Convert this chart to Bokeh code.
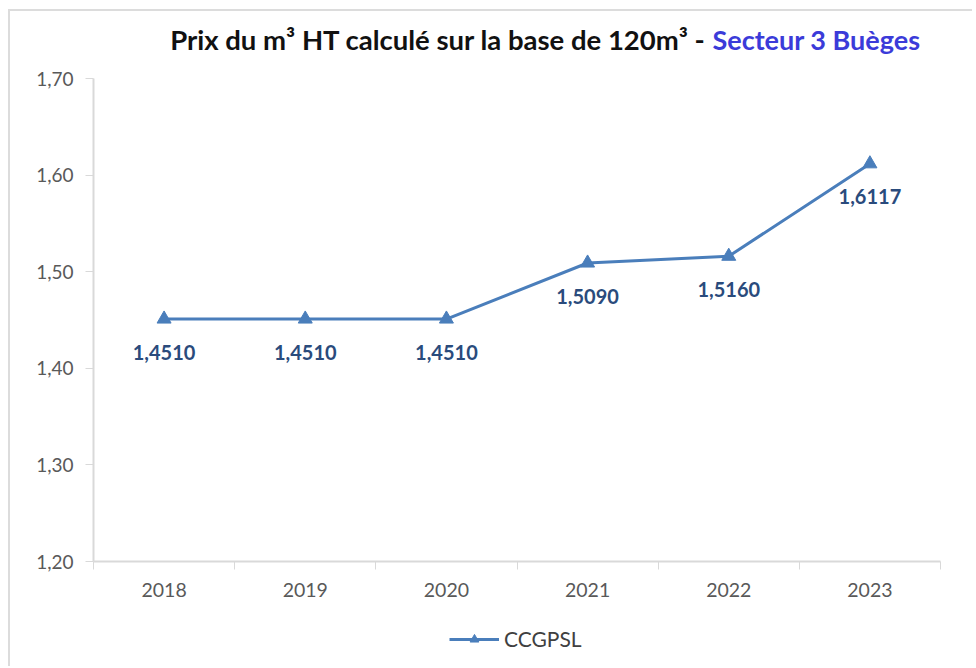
from bokeh.plotting import figure
from bokeh.layouts import column
from bokeh.models import (ColumnDataSource, FixedTicker, CustomJSTickFormatter,
                          Label, Legend, LegendItem, Range1d, LabelSet)
from bokeh.core.properties import value
from bokeh.embed import file_html
from bokeh.resources import INLINE

years = ["2018", "2019", "2020", "2021", "2022", "2023"]
prices = [1.4510, 1.4510, 1.4510, 1.5090, 1.5160, 1.6117]
price_labels = ["1,4510", "1,4510", "1,4510", "1,5090", "1,5160", "1,6117"]
y_ticks = [1.20, 1.30, 1.40, 1.50, 1.60, 1.70]
title_main = "Prix du m\u00b3 HT calcul\u00e9 sur la base de 120m\u00b3 -"
title_sector = "Secteur 3 Bu\u00e8ges"
series_name = "CCGPSL"

FONT = "Lato"
LINE_COLOR = "#4a7ebb"
LABEL_COLOR = "#2a4b7c"
W = 962


def blank(height):
    f = figure(width=W, height=height, output_backend="svg", toolbar_location=None,
               x_range=Range1d(0, W), y_range=Range1d(0, height),
               x_axis_location=None, y_axis_location=None,
               min_border=0, min_border_left=0, min_border_right=0,
               min_border_top=0, min_border_bottom=0)
    f.outline_line_color = None
    f.grid.visible = False
    f.background_fill_color = "white"
    f.border_fill_color = "white"
    return f


# ---- title strip ----
tf = blank(50)
t1 = Label(x=696, y=22, text=title_main, text_align="right", text_baseline="middle",
           text_font=FONT, text_font_size="27.5px", text_font_style="bold",
           text_color="#111111")
t2 = Label(x=703, y=22, text=title_sector, text_align="left", text_baseline="middle",
           text_font=FONT, text_font_size="27px", text_font_style="bold",
           text_color="#3b3bd9")
tf.add_layout(t1)
tf.add_layout(t2)

# ---- main chart ----
xs = [i + 0.5 for i in range(len(years))]
src = ColumnDataSource(dict(x=xs, y=prices, lab=price_labels))

p = figure(width=W, height=545, output_backend="svg", toolbar_location=None,
           x_range=Range1d(0, len(years)), y_range=Range1d(1.20, 1.70),
           min_border_left=83, min_border_right=32, min_border_top=17,
           min_border_bottom=45)
p.outline_line_color = None
p.xgrid.visible = False
p.ygrid.visible = False
p.background_fill_color = "white"
p.border_fill_color = "white"

p.yaxis.ticker = FixedTicker(ticks=y_ticks)
p.yaxis.formatter = CustomJSTickFormatter(code="return tick.toFixed(2).replace('.', ',');")
p.yaxis.axis_line_color = "#d9d9d9"
p.yaxis.axis_line_width = 2
p.yaxis.major_tick_line_color = "#d9d9d9"
p.yaxis.major_tick_out = 8
p.yaxis.major_tick_in = 0
p.yaxis.minor_tick_line_color = None
p.yaxis.major_label_text_font = FONT
p.yaxis.major_label_text_font_size = "19px"
p.yaxis.major_label_text_color = "#595959"
p.yaxis.major_label_standoff = 12

p.xaxis.ticker = FixedTicker(ticks=xs, minor_ticks=list(range(len(years) + 1)))
p.xaxis.major_label_overrides = {x: y for x, y in zip(xs, years)}
p.xaxis.axis_line_color = "#d9d9d9"
p.xaxis.axis_line_width = 2
p.xaxis.major_tick_line_color = None
p.xaxis.minor_tick_line_color = "#d9d9d9"
p.xaxis.minor_tick_out = 8
p.xaxis.minor_tick_in = 0
p.xaxis.major_label_text_font = FONT
p.xaxis.major_label_text_font_size = "19.5px"
p.xaxis.major_label_text_color = "#595959"
p.xaxis.major_label_standoff = 13

line = p.line("x", "y", source=src, line_color=LINE_COLOR, line_width=3)
pts = p.scatter("x", "y", source=src, marker="triangle", size=14,
                fill_color=LINE_COLOR, line_color=LINE_COLOR)

labels = LabelSet(x="x", y="y", text="lab", source=src, y_offset=-33,
                  text_align="center", text_baseline="middle",
                  text_font=value(FONT), text_font_size="20px",
                  text_font_style="bold", text_color=LABEL_COLOR)
p.add_layout(labels)

# ---- legend strip (hidden copies of the series supply the legend glyph) ----
lf = blank(60)
lg_line = lf.line("x", "y", source=src, line_color=LINE_COLOR, line_width=3,
                  visible=False)
lg_pts = lf.scatter("x", "y", source=src, marker="triangle", size=14,
                    fill_color=LINE_COLOR, line_color=LINE_COLOR, visible=False)
legend = Legend(items=[LegendItem(label=series_name, renderers=[lg_line, lg_pts])],
                location=(356, 15), orientation="horizontal",
                label_text_font=FONT, label_text_font_size="21px",
                label_text_color="#404040", glyph_width=50, glyph_height=22,
                border_line_color=None, background_fill_alpha=0,
                inactive_fill_alpha=0, margin=0, padding=0, label_standoff=5)
lf.add_layout(legend)

layout = column(tf, p, lf, spacing=0)
layout.styles = {"border-top": "2px solid #dcdcdc", "border-left": "2px solid #dcdcdc",
                 "margin-top": "9px", "margin-left": "8px"}

open("out.html", "w").write(file_html(layout, INLINE))
